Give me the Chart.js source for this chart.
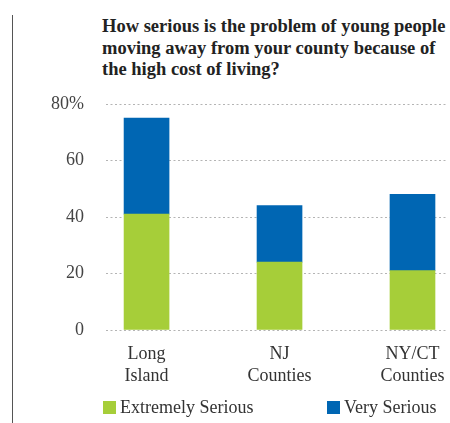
<!DOCTYPE html>
<html>
<head>
<meta charset="utf-8">
<script src="https://cdn.jsdelivr.net/npm/chart.js@4"></script>
<style>
  html, body { margin: 0; padding: 0; background: #fff; }
  #wrap { position: relative; width: 450px; height: 423px; overflow: hidden; }
  #rule { position: absolute; left: 12px; top: 15px; width: 0; height: 410px; border-left: 1.5px solid #555; }
  #title { position: absolute; left: 102px; top: 16px; width: 350px; font: bold 18.5px "Liberation Serif", serif; line-height: 21.5px; color: #222; white-space: nowrap; }
  canvas { position: absolute; left: 0; top: 0; }
  .key { position: absolute; top: 397px; font: 18px "Liberation Serif", serif; color: #333; }
  .key span { display: inline-block; width: 13px; height: 13px; vertical-align: -1px; margin-right: 4px; }
</style>
</head>
<body>
<div id="wrap">
  <div id="rule"></div>
  <div id="title">How serious is the problem of young people<br>moving away from your county because of<br>the high cost of living?</div>
  <canvas id="chart" width="450" height="423"></canvas>
  <div class="key" style="left:103px"><span style="background:#a6ce39"></span>Extremely Serious</div>
  <div class="key" style="left:327px"><span style="background:#0066b3"></span>Very Serious</div>
</div>
<script>
// -------------------
// DATA

const categories = [["Long", "Island"], ["NJ", "Counties"], ["NY/CT", "Counties"]];
const extremelySerious = [41, 24, 21];
const verySerious = [34, 20, 27];
const yTicks = [0, 20, 40, 60, 80];

const GREEN = "#a6ce39";
const BLUE = "#0066b3";
const FONT = { family: "'Liberation Serif', serif", size: 18, lineHeight: 1.25 };

// -------------------
// CHART

const canvasHTML = document.getElementById("chart");

const chartSettings = {
  type: "bar",
  data: {
    datasets: [
      {
        label: "Extremely Serious",
        data: extremelySerious.map((v, i) => ({ x: i, y: v })),
        backgroundColor: GREEN,
        barThickness: 45,
      },
      {
        label: "Very Serious",
        data: verySerious.map((v, i) => ({ x: i, y: v })),
        backgroundColor: BLUE,
        barThickness: 45,
      },
    ],
  },
  options: {
    responsive: false,
    animation: false,
    layout: { padding: { left: 0, top: 104, right: 2, bottom: 33 } },
    plugins: {
      legend: { display: false },
      tooltip: { enabled: false },
    },
    scales: {
      x: {
        type: "linear",
        stacked: true,
        offset: false,
        min: -0.305,
        max: 2.267,
        grid: { display: false, offset: false },
        border: { display: false },
        afterBuildTicks: scale => {
          scale.ticks = categories.map((c, i) => ({ value: i }));
        },
        afterFit: scale => {
          scale.height = 60;
        },
        ticks: {
          padding: 5,
          color: "#333",
          font: FONT,
          maxRotation: 0,
          callback: value => categories[value],
        },
      },
      y: {
        stacked: true,
        min: 0,
        max: 80,
        afterBuildTicks: scale => {
          scale.ticks = yTicks.map(v => ({ value: v }));
        },
        afterFit: scale => {
          scale.width = 106;
        },
        grid: {
          color: "#b4b4b4",
          drawTicks: false,
        },
        border: { display: false, dash: [2, 2.5] },
        ticks: {
          padding: 22,
          color: "#444",
          font: FONT,
          callback: value => (value === 80 ? "80%" : value),
        },
      },
    },
  },
};

const chart = new Chart(canvasHTML, chartSettings);
</script>
</body>
</html>
